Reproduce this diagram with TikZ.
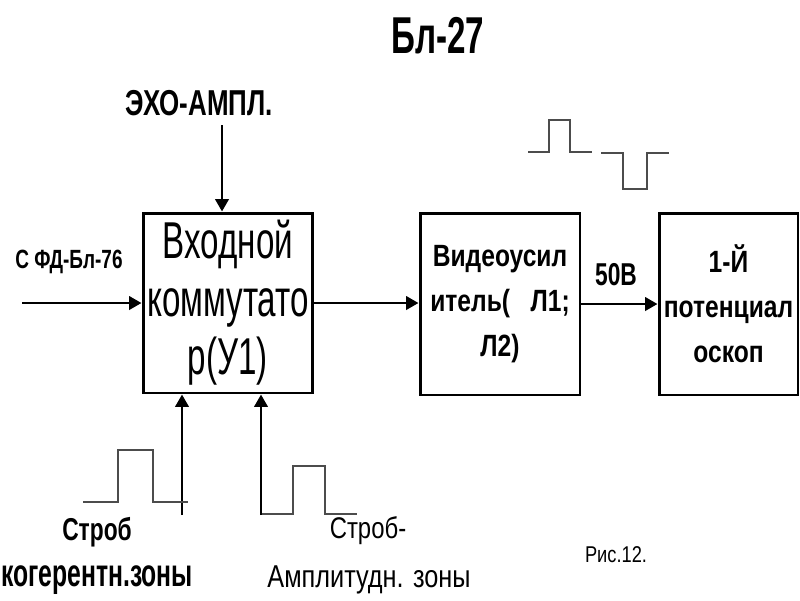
\documentclass[tikz,border=0pt]{standalone}
\usepackage{fontspec}
\setmainfont{Liberation Sans}
\newfontfamily\narrowA[FakeStretch=0.64]{Liberation Sans}
\newfontfamily\narrowB[FakeStretch=0.72]{Liberation Sans}
\newfontfamily\narrowC[FakeStretch=0.8]{Liberation Sans}
\usetikzlibrary{arrows.meta,positioning}

\tikzset{
  blok/.style={draw,line width=1.7pt,inner sep=0pt,align=center},
  sig/.style={-{Triangle[length=7pt,width=7.5pt]},line width=1.6pt},
  puls/.style={line width=0.7pt,black!70},
  lab/.style={inner sep=0pt,anchor=base},
}

\begin{document}
\begin{tikzpicture}[x=0.02cm,y=-0.02cm]
  \useasboundingbox (0,0) rectangle (800,600);
  % blocks
  \node[blok,minimum width=3.4cm,minimum height=3.6cm,
        font=\narrowA\fontsize{29.5}{33}\selectfont] (vkhod) at (228,303)
        {Входной\\коммутато\\р(У1)};
  \node[blok,minimum width=3.2cm,minimum height=3.64cm,
        font=\narrowC\bfseries\fontsize{17.5}{25.5}\selectfont] (video) at (500,304)
        {Видеоусил\\итель(\ \ \ Л1;\\Л2)};
  \node[blok,minimum width=2.78cm,minimum height=3.64cm,
        font=\narrowC\bfseries\fontsize{17.5}{25.5}\selectfont] (osc) at (728.5,304)
        {1-Й\\потенциал\\оскоп};
  % labels
  \node[lab,font=\narrowA\bfseries\fontsize{29.5}{30}\selectfont] (title) at (438,53) {Бл-27};
  \node[lab,font=\narrowB\bfseries\fontsize{20.5}{22}\selectfont] (eho) at (199,115) {ЭХО-АМПЛ.};
  \node[lab,font=\narrowB\bfseries\fontsize{15}{16}\selectfont] (fd) at (69,268) {С ФД-Бл-76};
  \node[lab,font=\narrowB\bfseries\fontsize{18}{20}\selectfont] (v50) at (616,285) {50В};
  \node[lab,font=\narrowB\bfseries\fontsize{18}{20}\selectfont] (strob1) at (97,540) {Строб};
  \node[lab,font=\narrowA\bfseries\fontsize{22}{24}\selectfont] (kog) at (97,586) {когерентн.зоны};
  \node[lab,font=\narrowC\fontsize{17}{20}\selectfont] (strob2) at (368,538) {Строб-};
  \node[lab,font=\narrowC\fontsize{18}{20}\selectfont] (ampl) at (369,587) {Амплитудн. зоны};
  \node[lab,font=\narrowC\fontsize{13}{14}\selectfont] (ris) at (616,562) {Рис.12.};
  % connectors
  \coordinate (fdIn) at (22,303);
  \coordinate (ehoTop) at (222,125);
  \coordinate (strobK) at (182,515);
  \coordinate (strobA) at (261,515);
  \draw[sig] (fdIn) -- (fdIn -| vkhod.west);
  \draw[sig] (ehoTop) -- (ehoTop |- vkhod.north);
  \draw[sig] (strobK) -- (strobK |- vkhod.south);
  \draw[sig] (strobA) -- (strobA |- vkhod.south);
  \draw[sig] (vkhod.east) -- (vkhod.east -| video.west);
  \draw[sig] (video.east) -- (video.east -| osc.west);
  % pulses
  \draw[puls] (528,152) -- (549,152) -- (549,120) -- (570,120) -- (570,152) -- (592,152);
  \draw[puls] (601,153) -- (623,153) -- (623,189) -- (647,189) -- (647,153) -- (669,153);
  \draw[puls] (83,502) -- (118,502) -- (118,450) -- (153,450) -- (153,502) -- (188,502);
  \draw[puls] (262,514) -- (293,514) -- (293,466) -- (325,466) -- (325,514) -- (357,514);
\end{tikzpicture}
\end{document}
